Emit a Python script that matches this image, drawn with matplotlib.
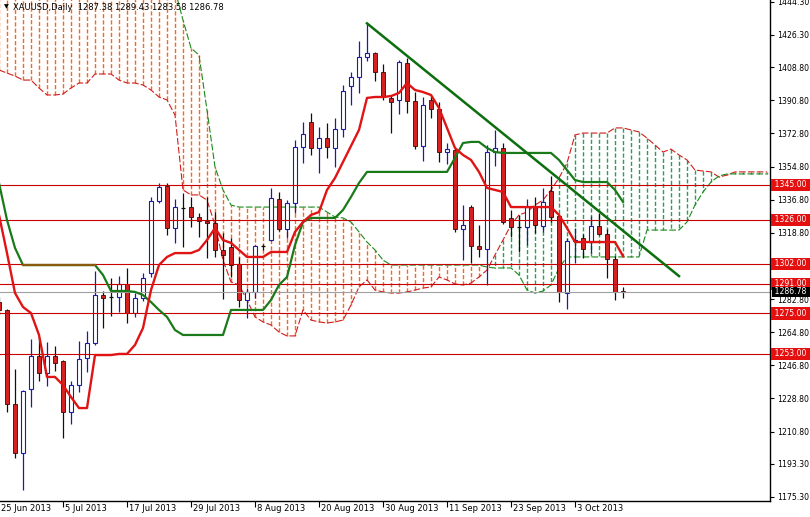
import matplotlib
matplotlib.use('Agg')
import matplotlib.pyplot as plt
from matplotlib import transforms

# daily XAUUSD candles, bar 0 = 25 Jun 2013
opens = [1281.2, 1276.9, 1225.8, 1199.3, 1233.8, 1251.9, 1242.5, 1251.9, 1249.0, 1221.6,
         1236.0, 1250.6, 1258.8, 1285.0, 1283.8, 1283.8, 1290.8, 1275.1, 1283.2, 1296.8,
         1335.9, 1344.2, 1321.3, 1332.5, 1332.7, 1327.2, 1325.2, 1324.0, 1309.5, 1310.9,
         1301.7, 1282.3, 1286.5, 1311.8, 1314.9, 1337.0, 1320.7, 1334.9, 1365.3, 1378.9,
         1364.7, 1370.2, 1365.1, 1375.1, 1398.6, 1403.3, 1414.2, 1416.3, 1406.3, 1392.2,
         1391.0, 1410.9, 1390.4, 1366.1, 1391.0, 1386.1, 1362.6, 1363.8, 1320.7, 1332.7,
         1311.8, 1309.9, 1362.9, 1365.1, 1326.7, 1322.1, 1322.1, 1333.4, 1322.7, 1341.7,
         1327.9, 1286.3, 1314.5, 1315.8, 1314.0, 1322.5, 1318.2, 1304.4, 1287.38]
highs = [1284.0, 1277.5, 1244.7, 1233.5, 1261.1, 1262.4, 1259.6, 1257.3, 1249.7, 1238.3,
         1260.2, 1265.6, 1298.1, 1287.4, 1294.1, 1295.5, 1299.5, 1285.9, 1296.8, 1338.4,
         1346.0, 1345.7, 1337.0, 1340.6, 1338.1, 1329.4, 1338.4, 1330.3, 1318.5, 1315.8,
         1305.8, 1288.7, 1312.0, 1313.0, 1343.0, 1340.8, 1336.6, 1369.2, 1378.9, 1383.7,
         1376.5, 1378.3, 1381.0, 1399.1, 1406.0, 1423.0, 1432.6, 1417.2, 1410.4, 1393.7,
         1412.7, 1413.6, 1395.5, 1392.4, 1393.1, 1390.0, 1367.4, 1364.7, 1333.9, 1333.9,
         1323.1, 1366.5, 1374.7, 1367.8, 1331.2, 1328.5, 1337.0, 1338.4, 1343.0, 1349.7,
         1328.5, 1315.8, 1321.4, 1318.2, 1327.9, 1329.7, 1320.7, 1306.2, 1289.43]
lows = [1274.0, 1221.6, 1196.3, 1179.1, 1224.3, 1238.5, 1235.7, 1243.7, 1207.5, 1214.8,
        1232.5, 1243.4, 1258.0, 1267.0, 1273.6, 1276.0, 1269.7, 1273.2, 1282.0, 1295.0,
        1335.0, 1317.6, 1313.1, 1311.3, 1321.8, 1316.7, 1305.0, 1305.8, 1282.7, 1295.0,
        1278.3, 1272.4, 1283.2, 1309.5, 1314.5, 1320.0, 1315.8, 1329.6, 1356.6, 1361.1,
        1351.5, 1359.3, 1354.4, 1371.0, 1388.3, 1394.6, 1412.3, 1401.5, 1391.0, 1372.9,
        1383.2, 1383.7, 1364.2, 1358.0, 1381.0, 1357.5, 1356.2, 1319.4, 1304.0, 1302.3,
        1305.5, 1290.5, 1355.0, 1323.5, 1316.4, 1308.5, 1312.2, 1318.5, 1319.4, 1324.9,
        1281.4, 1277.3, 1302.3, 1305.0, 1307.7, 1317.5, 1294.1, 1282.3, 1283.58]
closes = [1276.9, 1225.8, 1199.3, 1232.9, 1251.9, 1242.5, 1251.9, 1248.0, 1221.3, 1236.0,
          1250.3, 1258.8, 1285.0, 1283.2, 1283.8, 1290.8, 1275.1, 1283.2, 1294.1, 1335.9,
          1343.9, 1321.3, 1332.7, 1332.5, 1327.2, 1325.2, 1324.3, 1309.5, 1306.8, 1301.3,
          1282.3, 1286.5, 1311.8, 1311.8, 1337.6, 1320.7, 1335.2, 1365.3, 1372.3, 1364.7,
          1370.2, 1365.6, 1375.1, 1395.9, 1403.3, 1414.2, 1416.3, 1406.3, 1392.4, 1389.7,
          1411.4, 1390.4, 1366.1, 1388.3, 1386.1, 1362.6, 1364.3, 1320.7, 1323.1, 1311.8,
          1309.9, 1362.9, 1365.1, 1324.5, 1321.8, 1322.1, 1332.7, 1323.1, 1335.4, 1327.6,
          1286.8, 1314.5, 1315.0, 1309.9, 1322.5, 1318.2, 1304.4, 1286.8, 1286.78]

# ichimoku lines
tenkan = [1328.5, 1307.8, 1286.1, 1278.5, 1275.2, 1263.3, 1240.5, 1240.5, 1236.1, 1229.6,
          1223.6, 1223.6, 1252.4, 1252.4, 1252.4, 1253.0, 1253.0, 1257.9, 1267.1, 1287.7,
          1301.3, 1305.7, 1307.8, 1307.8, 1307.8, 1309.5, 1314.9, 1321.4, 1314.9, 1313.3,
          1309.5, 1305.7, 1305.7, 1305.7, 1308.4, 1308.4, 1308.4, 1319.3, 1324.7, 1328.5,
          1330.1, 1342.1, 1348.6, 1357.3, 1366.0, 1374.7, 1392.1, 1392.6, 1392.6, 1393.1,
          1394.8, 1400.2, 1396.4, 1395.3, 1393.7, 1386.6, 1375.8, 1364.9, 1361.1, 1358.4,
          1351.9, 1343.2, 1342.1, 1341.0, 1332.8, 1332.8, 1332.8, 1332.8, 1332.8, 1332.8,
          1328.5, 1321.4, 1313.8, 1313.8, 1313.8, 1313.8, 1313.8, 1313.8, 1306.2]
kijun = [1345.9, 1325.8, 1310.6, 1301.3, 1301.3, 1301.3, 1301.3, 1301.3, 1301.3, 1301.3,
         1301.3, 1301.3, 1301.3, 1295.9, 1287.2, 1287.2, 1287.2, 1286.7, 1285.0, 1281.2,
         1276.9, 1273.1, 1266.0, 1263.3, 1263.3, 1263.3, 1263.3, 1263.3, 1263.3, 1276.9,
         1276.9, 1276.9, 1276.9, 1276.9, 1282.3, 1290.5, 1294.8, 1312.2, 1324.7, 1326.9,
         1326.9, 1326.9, 1326.9, 1331.2, 1338.3, 1345.9, 1351.9, 1351.9, 1351.9, 1351.9,
         1351.9, 1351.9, 1351.9, 1351.9, 1351.9, 1351.9, 1351.9, 1359.5, 1367.6, 1368.2,
         1368.2, 1364.9, 1362.7, 1362.2, 1362.2, 1362.2, 1362.2, 1362.2, 1362.2, 1362.2,
         1358.4, 1352.9, 1347.5, 1346.4, 1346.4, 1346.4, 1346.4, 1342.1, 1335.6]
span_a = [1407.3, 1405.6, 1404.0, 1401.8, 1401.8, 1397.5, 1393.7, 1393.7, 1394.2, 1397.5,
          1400.2, 1400.2, 1405.1, 1405.1, 1405.1, 1401.8, 1400.2, 1400.2, 1399.1, 1396.4,
          1392.6, 1391.0, 1382.8, 1342.1, 1339.4, 1339.4, 1336.6, 1323.1, 1304.0, 1292.1,
          1290.5, 1282.3, 1273.1, 1270.4, 1268.7, 1264.9, 1262.8, 1262.8, 1276.9, 1271.4,
          1270.4, 1269.8, 1270.4, 1271.4, 1279.6, 1289.4, 1293.2, 1287.7, 1286.7, 1286.1,
          1286.1, 1286.7, 1287.7, 1288.8, 1289.4, 1294.8, 1293.2, 1291.0, 1290.5, 1291.5,
          1294.8, 1298.6, 1306.8, 1314.9, 1323.1, 1328.5, 1330.1, 1333.9, 1336.6, 1342.1,
          1348.6, 1356.7, 1372.0, 1373.0, 1373.0, 1373.0, 1373.0, 1375.8, 1375.8, 1374.7,
          1373.6, 1370.3, 1366.5, 1362.7, 1364.3, 1361.1, 1358.4, 1352.9, 1352.4, 1351.9,
          1349.1, 1350.2, 1351.9, 1351.9, 1351.9, 1351.9, 1351.9]
span_b = [1475.0, 1475.0, 1475.0, 1475.0, 1475.0, 1475.0, 1475.0, 1475.0, 1475.0, 1475.0,
          1475.0, 1475.0, 1475.0, 1475.0, 1475.0, 1475.0, 1475.0, 1475.0, 1475.0, 1472.0,
          1468.0, 1462.0, 1450.7, 1434.4, 1419.2, 1415.4, 1385.5, 1354.6, 1342.1, 1333.9,
          1332.8, 1332.8, 1332.8, 1332.8, 1332.8, 1332.8, 1332.8, 1332.8, 1332.8, 1332.8,
          1332.8, 1330.1, 1327.4, 1326.9, 1324.7, 1319.3, 1313.8, 1309.5, 1304.0, 1301.3,
          1301.3, 1301.3, 1301.3, 1301.3, 1301.3, 1301.3, 1301.3, 1301.3, 1301.3, 1301.3,
          1301.3, 1300.2, 1299.7, 1299.7, 1299.7, 1295.9, 1287.7, 1286.1, 1287.2, 1290.5,
          1299.7, 1305.7, 1305.7, 1305.7, 1305.7, 1305.7, 1305.7, 1305.7, 1305.7, 1305.7,
          1305.7, 1320.3, 1320.3, 1320.3, 1320.3, 1320.3, 1324.7, 1333.9, 1341.0, 1346.4,
          1349.7, 1350.8, 1350.8, 1350.8, 1350.8, 1350.8, 1350.8]

levels = [1345.0, 1326.0, 1302.0, 1291.0, 1275.0, 1253.0]
last_price = 1286.78
price_ticks = [1444.30, 1426.30, 1408.80, 1390.80, 1372.80, 1354.80, 1336.80, 1318.80,
               1282.80, 1264.80, 1246.80, 1228.80, 1210.80, 1193.30, 1175.30]
date_labels = ['25 Jun 2013', '5 Jul 2013', '17 Jul 2013', '29 Jul 2013', '8 Aug 2013',
               '20 Aug 2013', '30 Aug 2013', '11 Sep 2013', '23 Sep 2013', '3 Oct 2013']
date_bars = [0, 8, 16, 24, 32, 40, 48, 56, 64, 72]
trend_bars = [46, 85]
trend_prices = [1432.6, 1295.3]

plt.rcParams['font.family'] = 'DejaVu Sans'
plt.rcParams['font.size'] = 6

fig = plt.figure(figsize=(8.10, 5.17), dpi=100)
ax = fig.add_axes([0, 16 / 517, 770 / 810, 501 / 517])

# kumo hatching, coloured by which span is on top
for i in range(len(span_a)):
    col = '#28a050' if span_a[i] > span_b[i] else '#ff6418'
    ax.plot([i, i], [span_a[i], span_b[i]], color=col, linewidth=1.0,
            linestyle=(0, (3, 1.5)), zorder=1)
bars_c = list(range(len(span_a)))
ax.plot(bars_c, span_a, color='#d01e1e', linewidth=0.8, linestyle=(0, (6, 2)), zorder=1.2)
ax.plot(bars_c, span_b, color='#1a8a1a', linewidth=0.8, linestyle=(0, (6, 2)), zorder=1.2)

# candles
w = 0.6
for i in range(len(opens)):
    o, h, l, c = opens[i], highs[i], lows[i], closes[i]
    if c > o:
        ax.vlines(i, l, h, color='#1c1ca0', linewidth=0.9, zorder=2)
        ax.bar(i, c - o, bottom=o, width=w, facecolor='white', edgecolor='#1c1ca0',
               linewidth=0.8, zorder=2.1)
    elif c < o:
        ax.vlines(i, l, h, color='#101010', linewidth=0.9, zorder=2)
        ax.bar(i, o - c, bottom=c, width=w, facecolor='#d42222', edgecolor='#3a0808',
               linewidth=0.6, zorder=2.1)
    else:
        ax.vlines(i, l, h, color='#101010', linewidth=0.9, zorder=2)
        ax.hlines(o, i - w / 2, i + w / 2, color='#101010', linewidth=0.9, zorder=2.1)

# support / resistance levels
for lv in levels:
    ax.axhline(lv, color='#c80000', linewidth=0.8, zorder=2.5)
ax.axhline(last_price, color='#a0a0a0', linewidth=0.8, zorder=2.4)

# tenkan / kijun
bars = list(range(len(tenkan)))
ax.plot(bars, kijun, color='#1a7a1a', linewidth=1.6, zorder=3)
ax.plot(bars[3:13], kijun[3:13], color='#8a5a10', linewidth=1.6, zorder=3.05)
ax.plot(bars, tenkan, color='#e01414', linewidth=1.7, zorder=3.1)

# trend line
ax.plot(trend_bars, trend_prices, color='#0c6e0c', linewidth=1.8, zorder=4)

ax.set_xlim(0.125, 96.375)
ax.set_ylim(1173.1, 1445.3)

for s in ['top', 'left']:
    ax.spines[s].set_visible(False)
for s in ['right', 'bottom']:
    ax.spines[s].set_linewidth(1.0)

ax.yaxis.tick_right()
ax.set_yticks(price_ticks)
ax.set_yticklabels(['%.2f' % v for v in price_ticks])
ax.tick_params(axis='y', length=3, pad=2, labelsize=5.6)
ax.set_xticks(date_bars[1:])
ax.set_xticklabels([])
ax.tick_params(axis='x', length=4)

trans_x = transforms.blended_transform_factory(ax.transData, ax.transAxes)
for b, lab in zip(date_bars, date_labels):
    ax.text(b + 0.3, -0.006, lab, transform=trans_x, ha='left', va='top', fontsize=6,
            clip_on=False)

trans_y = transforms.blended_transform_factory(ax.transAxes, ax.transData)
for lv in levels:
    ax.text(1.003, lv, ' %.2f ' % lv, transform=trans_y, ha='left', va='center',
            color='white', fontsize=5.6, zorder=6, clip_on=False,
            bbox=dict(boxstyle='square,pad=0.2', facecolor='#e41010', edgecolor='none'))
ax.text(1.003, last_price, ' %.2f ' % last_price, transform=trans_y, ha='left', va='center',
        color='white', fontsize=5.6, zorder=6, clip_on=False,
        bbox=dict(boxstyle='square,pad=0.05', facecolor='black', edgecolor='none'))

fig.text(4 / 810, 1 - 7 / 517, '\u25BC', fontsize=4.5, ha='left', va='center')
fig.text(13 / 810, 1 - 7 / 517,
         'XAUUSD,Daily  %.2f %.2f %.2f %.2f' % (opens[-1], highs[-1], lows[-1], closes[-1]),
         fontsize=6, ha='left', va='center')

fig.savefig('out.png', dpi=100)
